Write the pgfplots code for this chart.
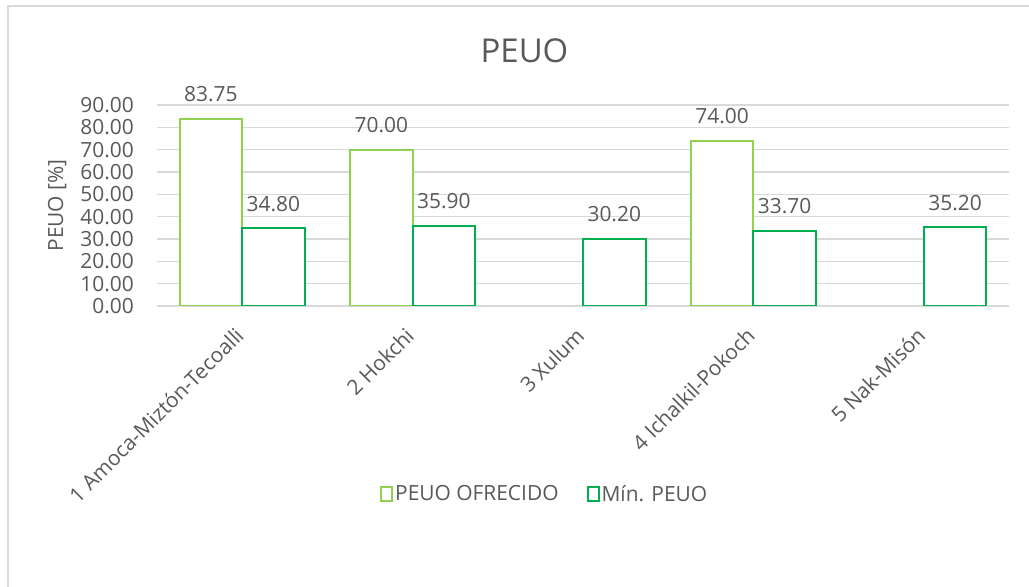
\documentclass[border=0pt]{standalone}
\usepackage{pgfplots}
\pgfplotsset{compat=1.18}
\usepackage{fontspec}
\setmainfont{Open Sans}
\definecolor{txt}{HTML}{595959}
\definecolor{gridc}{HTML}{D9D9D9}
\definecolor{lgreen}{HTML}{92D050}
\definecolor{dgreen}{HTML}{00B050}
\begin{document}
\begin{tikzpicture}
\useasboundingbox (0,0) rectangle (1029bp,587bp);
\fill[white] (0,0) rectangle (1029bp,587bp);
\draw[gridc, line width=1.2bp] (8bp,0) -- (8bp,581bp) -- (1029bp,581bp);
\node[anchor=base, text=txt, font=\fontsize{33}{38}\selectfont] at (524.5bp,524bp) {PEUO};
\begin{axis}[
  at={(157bp,281bp)}, anchor=south west,
  scale only axis, width=852bp, height=201bp,
  xmin=-0.5, xmax=4.5, ymin=0, ymax=90,
  ybar=0pt, bar width=62.5bp,
  xtick={0,1,2,3,4},
  xticklabels={1 Amoca-Miztón-Tecoalli, 2 Hokchi, 3 Xulum, 4 Ichalkil-Pokoch, 5 Nak-Misón},
  ytick={0,10,...,90},
  xmajorgrids=false, ymajorgrids=true,
  y grid style={draw=gridc, line width=1.3bp},
  axis line style={draw=none},
  major tick length=0pt,
  tick label style={text=txt, font=\fontsize{21}{25}\selectfont},
  /pgf/number format/assume math mode=true,
  /pgf/number format/fixed, /pgf/number format/fixed zerofill, /pgf/number format/precision=2,
  yticklabel style={anchor=east, inner sep=0pt, xshift=-23bp},
  xticklabel style={rotate=45, anchor=north east, inner sep=0pt, yshift=-8bp, xshift=-20bp},
  ylabel={PEUO [\%]},
  ylabel style={at={(axis description cs:-0.117,0.5)}, anchor=center, rotate=0, text=txt, font=\fontsize{21}{25}\selectfont},
  nodes near coords,
  every node near coord/.append style={anchor=base, yshift=17bp, inner sep=0pt, text=txt, font=\fontsize{21}{25}\selectfont},
  legend style={at={(0.455,-0.935)}, anchor=center, draw=none, fill=none,
    legend columns=2, font=\fontsize{21}{25}\selectfont, text=txt,
    /tikz/every even column/.append style={column sep=26bp}},
  legend image code/.code={\draw[#1, line width=2bp, fill=white] (0bp,-7bp) rectangle (11bp,7bp);},
]
\addplot[draw=lgreen, line width=2bp, fill=white] coordinates {(0,83.75) (1,70) (3,74)};
\addplot[draw=dgreen, line width=2bp, fill=white] coordinates {(0,34.8) (1,35.9) (2,30.2) (3,33.7) (4,35.2)};
\legend{PEUO OFRECIDO, Mín. PEUO}
\end{axis}
\end{tikzpicture}
\end{document}
